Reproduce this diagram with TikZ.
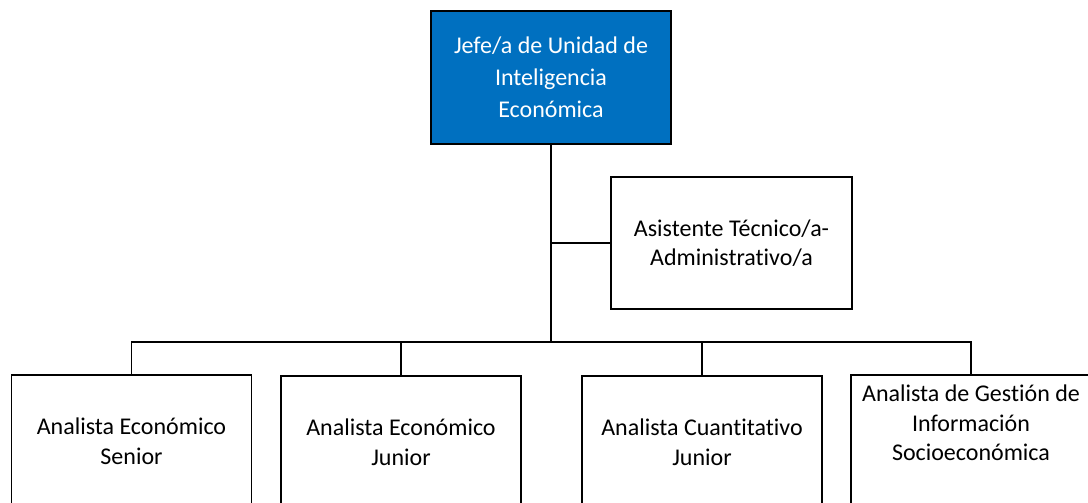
\documentclass[tikz,border=0pt]{standalone}
\usepackage{fontspec}
\setmainfont{Carlito}[Ligatures={NoCommon}]
\definecolor{boss}{HTML}{0070C0}
\begin{document}
\begin{tikzpicture}[x=1pt,y=-1pt,
  box/.style={draw=black,line width=1.6pt,minimum width=240pt,minimum height=133pt,inner sep=0pt,
    align=center,font=\fontsize{24}{30}\selectfont},
  wire/.style={draw=black,line width=1.6pt}]
\useasboundingbox (0,0) rectangle (1088,503);
\fill[white] (0,0) rectangle (1088,503);
\node[box,fill=boss,text=white,font=\fontsize{24}{32}\selectfont] (jefe) at (551,77.5) {Jefe/a de Unidad de\\Inteligencia\\Económica};
\node[box,minimum width=241pt,minimum height=132pt,font=\fontsize{24}{28.5}\selectfont] (asis) at (731.5,243) {Asistente Técnico/a-\\Administrativo/a};
\node[box] (b1) at (131.5,441.5) {Analista Económico\\Senior};
\node[box] (b2) at (401,442.5) {Analista Económico\\Junior};
\node[box] (b3) at (702,442.5) {Analista Cuantitativo\\Junior};
\node[box] (b4) at (971,441.5) {};
\node[align=center,font=\fontsize{24}{29.5}\selectfont,inner sep=0pt] (t4) at (971,423) {Analista de Gestión de\\Información\\Socioeconómica};
\coordinate (bus) at (551,342);
\draw[wire] (jefe.south) -- (bus);
\draw[wire] (asis.west) -- (asis.west -| jefe.south);
\draw[wire] (b1.north) |- (bus) -| (b4.north);
\draw[wire] (b2.north) -- (b2.north |- bus);
\draw[wire] (b3.north) -- (b3.north |- bus);
\end{tikzpicture}
\end{document}
